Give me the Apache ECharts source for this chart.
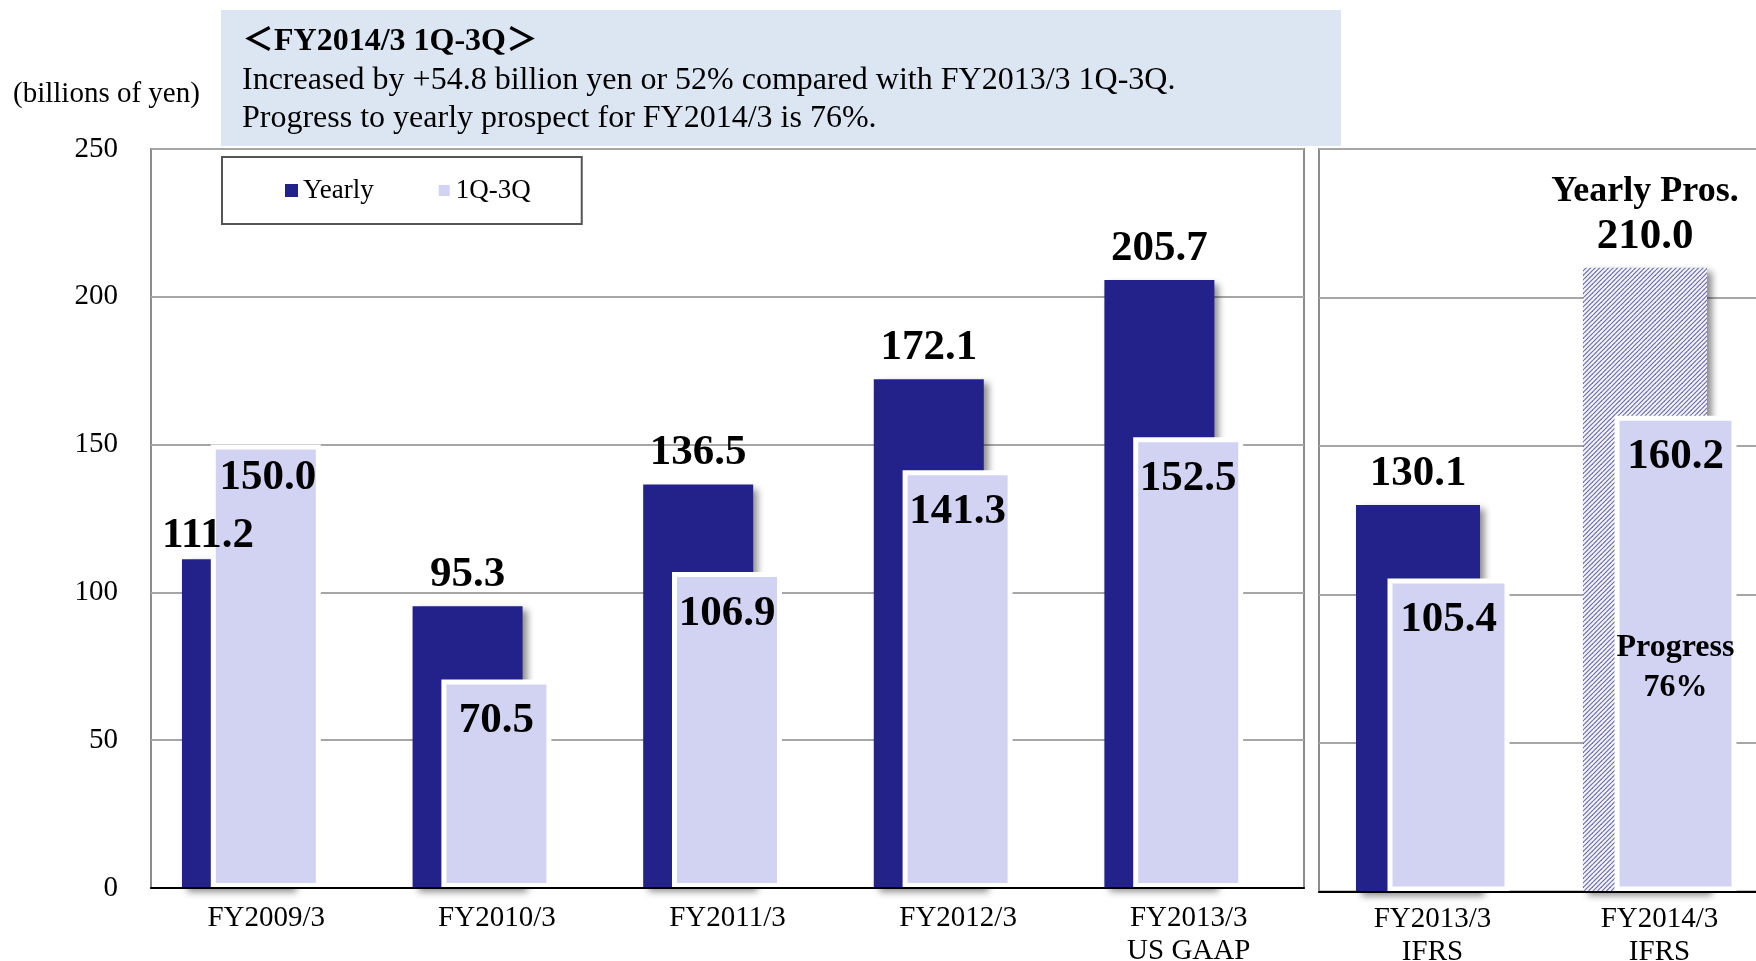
<!DOCTYPE html>
<html>
<head>
<meta charset="utf-8">
<title>Yearly / 1Q-3Q</title>
<script src="https://cdn.jsdelivr.net/npm/echarts@6/dist/echarts.min.js"></script>
<style>
  html, body { margin: 0; padding: 0; background: #fff; }
  #chart { width: 1756px; height: 961px; }
</style>
</head>
<body>
<div id="chart"></div>
<script>
// left panel, US GAAP
var gaapYears = ['FY2009/3', 'FY2010/3', 'FY2011/3', 'FY2012/3', 'FY2013/3\nUS GAAP'];
var gaapYearly = [111.2, 95.3, 136.5, 172.1, 205.7];
var gaapQ3 = [150.0, 70.5, 106.9, 141.3, 152.5];

// right panel, IFRS (last yearly value is the prospect)
var ifrsYears = ['FY2013/3\nIFRS', 'FY2014/3\nIFRS'];
var ifrsYearly = [130.1, 210.0];
var ifrsQ3 = [105.4, 160.2];

var yTicks = [0, 50, 100, 150, 200, 250];

var headline = '＜FY2014/3 1Q-3Q＞';
var note1 = 'Increased by +54.8 billion yen or 52% compared with FY2013/3 1Q-3Q.';
var note2 = 'Progress to yearly prospect for FY2014/3 is 76%.';
var unitText = '(billions of yen)';
var prosText = 'Yearly Pros.';

var serif = "'Liberation Serif', 'Times New Roman', 'Noto Sans CJK JP', serif";
var dark = '#22228a';
var light = '#d2d2f2';

// diagonal hatch for the prospect bar
var hatch = document.createElement('canvas');
hatch.width = 9; hatch.height = 9;
var hc = hatch.getContext('2d');
hc.fillStyle = '#f4f4fb';
hc.fillRect(0, 0, 9, 9);
hc.strokeStyle = '#6a6ab0';
hc.lineWidth = 1.15;
[-4.5, 0, 4.5, 9, 13.5, 18].forEach(function (s) {
  hc.beginPath();
  hc.moveTo(s - 9, 9);
  hc.lineTo(s, 0);
  hc.stroke();
});

function fmt1(p) { return p.value.toFixed(1); }

var darkStyle = {
  color: dark,
  shadowColor: 'rgba(0,0,0,0.45)',
  shadowBlur: 7,
  shadowOffsetX: 5,
  shadowOffsetY: 4
};
var lightStyle = { color: light, borderColor: '#fff', borderWidth: 5 };

var darkLabel = {
  show: true, position: 'top', distance: 10, formatter: fmt1,
  color: '#000', fontFamily: serif, fontSize: 43, fontWeight: 'bold'
};
var lightLabel = {
  show: true, position: 'insideTop', distance: 20, formatter: fmt1,
  color: '#000', fontFamily: serif, fontSize: 43, fontWeight: 'bold',
  textBorderWidth: 0
};

var axisFont = { color: '#000', fontFamily: serif, fontSize: 29, lineHeight: 33 };

function catAxis(idx, data, margin) {
  return {
    gridIndex: idx, type: 'category', data: data, z: 3,
    axisLine: { lineStyle: { color: '#000', width: 2 } },
    axisTick: { inside: true, length: 10, lineStyle: { color: '#8c8c8c', width: 1.5 } },
    axisLabel: Object.assign({ interval: 0, margin: margin }, axisFont)
  };
}
function valAxis(idx, showLabels) {
  return {
    gridIndex: idx, type: 'value',
    min: yTicks[0], max: yTicks[yTicks.length - 1], interval: yTicks[1] - yTicks[0],
    axisLine: { show: false }, axisTick: { show: false },
    splitLine: { lineStyle: { color: '#a6a6a6', width: 2 } },
    axisLabel: Object.assign({ show: showLabels, margin: 33 }, axisFont)
  };
}

var gaapYearlyData = gaapYearly.map(function (v, i) {
  // first label sits left, next to the taller light bar
  return i === 0 ? { value: v, label: { offset: [-29, 8] } } : v;
});
var gaapQ3Data = gaapQ3.map(function (v, i) {
  return i === 0 ? { value: v, label: { offset: [2, -8] } } : v;
});

var prospect = ifrsYearly[ifrsYearly.length - 1];
var ifrsYearlyData = ifrsYearly.map(function (v, i) {
  if (i < ifrsYearly.length - 1) return v;
  return {
    value: v,
    itemStyle: { color: { image: hatch, repeat: 'repeat' } },
    label: {
      distance: 8,
      formatter: function (p) { return '{a|' + prosText + '}\n{b|' + p.value.toFixed(1) + '}'; },
      rich: {
        a: { fontFamily: serif, fontSize: 36, fontWeight: 'bold', lineHeight: 44, color: '#000' },
        b: { fontFamily: serif, fontSize: 43, fontWeight: 'bold', lineHeight: 46, color: '#000' }
      }
    }
  };
});
var ifrsQ3Data = ifrsQ3.map(function (v, i) {
  if (i < ifrsQ3.length - 1) return v;
  return {
    value: v,
    label: {
      formatter: function (p) {
        return '{v|' + p.value.toFixed(1) + '}\n{s|}\n{p|Progress}\n{p|' +
          Math.round(p.value / prospect * 100) + '%}';
      },
      rich: {
        v: { fontFamily: serif, fontSize: 43, fontWeight: 'bold', lineHeight: 42, color: '#000' },
        s: { lineHeight: 150, height: 150 },
        p: { fontFamily: serif, fontSize: 32, fontWeight: 'bold', lineHeight: 40, color: '#000' }
      }
    }
  };
});

var chart = echarts.init(document.getElementById('chart'));
chart.setOption({
  animation: false,
  backgroundColor: '#fff',
  graphic: [
    { type: 'rect', shape: { x: 221, y: 10, width: 1120, height: 136 }, style: { fill: '#dce6f2' }, z: 0 },
    { type: 'text', x: 242, y: 42, style: { text: headline, font: 'bold 32px ' + serif, fill: '#000', verticalAlign: 'middle' } },
    { type: 'text', x: 242, y: 81, style: { text: note1, font: '32px ' + serif, fill: '#000', verticalAlign: 'middle' } },
    { type: 'text', x: 242, y: 119, style: { text: note2, font: '32px ' + serif, fill: '#000', verticalAlign: 'middle' } },
    { type: 'text', x: 13, y: 94, style: { text: unitText, font: '29px ' + serif, fill: '#000', verticalAlign: 'middle' } }
  ],
  legend: {
    data: ['Yearly', '1Q-3Q'],
    left: 222, top: 157,
    icon: 'rect', itemWidth: 13, itemHeight: 13, itemGap: 63,
    padding: [20, 51, 20, 63],
    borderColor: '#555', borderWidth: 2, backgroundColor: '#fff',
    textStyle: { fontFamily: serif, fontSize: 27, color: '#000' }
  },
  grid: [
    { left: 151, width: 1153, top: 149, bottom: 73, outerBoundsMode: 'none',
      show: true, borderColor: '#8c8c8c', borderWidth: 2 },
    { left: 1319, width: 454, top: 149, bottom: 69.5, outerBoundsMode: 'none',
      show: true, borderColor: '#8c8c8c', borderWidth: 2 }
  ],
  xAxis: [catAxis(0, gaapYears, 14), catAxis(1, ifrsYears, 11)],
  yAxis: [valAxis(0, true), valAxis(1, false)],
  series: [
    { name: 'Yearly', type: 'bar', xAxisIndex: 0, yAxisIndex: 0, data: gaapYearlyData,
      barWidth: 110, barGap: '-73.8%', itemStyle: darkStyle, label: darkLabel },
    { name: '1Q-3Q', type: 'bar', xAxisIndex: 0, yAxisIndex: 0, data: gaapQ3Data,
      barWidth: 110, barGap: '-73.8%', itemStyle: lightStyle, label: lightLabel },
    // empty spacer column: pushes the overlapped pair left of the category centre
    { name: 'spacer', type: 'bar', xAxisIndex: 0, yAxisIndex: 0, data: [],
      barWidth: 111, barGap: '-73.8%', silent: true },

    { name: 'Yearly', type: 'bar', xAxisIndex: 1, yAxisIndex: 1, data: ifrsYearlyData,
      barWidth: 124, barGap: '-74.6%', itemStyle: darkStyle, label: darkLabel },
    { name: '1Q-3Q', type: 'bar', xAxisIndex: 1, yAxisIndex: 1, data: ifrsQ3Data,
      barWidth: 122, barGap: '-74.6%', itemStyle: lightStyle, label: lightLabel },
    { name: 'spacer', type: 'bar', xAxisIndex: 1, yAxisIndex: 1, data: [],
      barWidth: 90.5, barGap: '-74.6%', silent: true }
  ]
});
</script>
</body>
</html>
